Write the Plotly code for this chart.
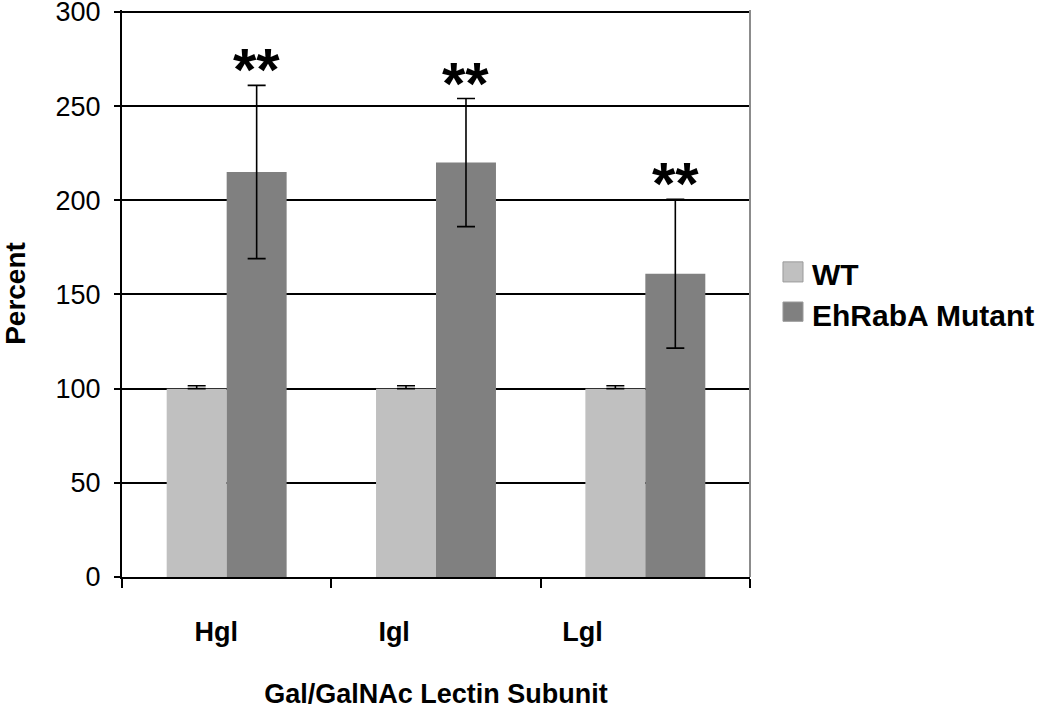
import plotly.graph_objects as go

# data
subunits = ["Hgl", "Igl", "Lgl"]
wt_pct = [100, 100, 100]
wt_err_plus = [1.5, 1.5, 1.5]
wt_err_minus = [0, 0, 0]
mutant_pct = [215, 220, 161]
mutant_err = [46, 34, 39.5]
signif = ["**", "**", "**"]

WT_COLOR = "#C0C0C0"
MUT_COLOR = "#808080"
FONT = "Liberation Sans, Arial, sans-serif"
BARGAP = 0.427

xpos = list(range(len(subunits)))
# labels in the source sit a bit left of the category centres
label_pos = [-0.05, 0.80, 1.70]

fig = go.Figure()
fig.add_trace(
    go.Bar(
        x=xpos,
        y=wt_pct,
        name="WT",
        marker=dict(color=WT_COLOR, line=dict(width=0)),
        error_y=dict(type="data", array=wt_err_plus, arrayminus=wt_err_minus,
                     color="black", thickness=1.6, width=9),
        showlegend=False,
    )
)
fig.add_trace(
    go.Bar(
        x=xpos,
        y=mutant_pct,
        name="EhRabA Mutant",
        marker=dict(color=MUT_COLOR, line=dict(width=0)),
        error_y=dict(type="data", array=mutant_err, color="black", thickness=1.6, width=9),
        showlegend=False,
    )
)

# significance stars above the mutant bars
for i, (m, e, s) in enumerate(zip(mutant_pct, mutant_err, signif)):
    fig.add_annotation(
        x=i + (1 - BARGAP) / 4,
        y=m + e,
        text=f"<b>{s}</b>",
        showarrow=False,
        xanchor="center",
        yanchor="bottom",
        yshift=-20,
        font=dict(size=60, color="black", family=FONT),
    )

# legend drawn by hand (larger swatches than plotly's own)
legend_rows = [("WT", WT_COLOR, 0.5558, 0.5204, 0.5336), ("EhRabA Mutant", MUT_COLOR, 0.485, 0.451, 0.462)]
for label, color, y0, y1, ty in legend_rows:
    fig.add_shape(type="rect", xref="paper", yref="paper", x0=1.0525, x1=1.0844, y0=y1, y1=y0,
                  fillcolor=color, line=dict(color="#9a9a9a", width=1))
    fig.add_annotation(x=1.0955, y=ty, xref="paper", yref="paper", text=f"<b>{label}</b>",
                       showarrow=False, xanchor="left", yanchor="middle",
                       font=dict(size=30, color="black", family=FONT))

# thin grey right border of the plot area
fig.add_shape(type="line", xref="paper", yref="paper", x0=1, x1=1, y0=0, y1=1,
              line=dict(color="#8c8c8c", width=2))

fig.update_layout(
    width=1050,
    height=711,
    margin=dict(l=122, r=300, t=10, b=134),
    paper_bgcolor="white",
    plot_bgcolor="white",
    barmode="group",
    bargap=BARGAP,
    bargroupgap=0,
    font=dict(family=FONT, color="black"),
    showlegend=False,
)
fig.update_xaxes(
    range=[-0.5, 2.5],
    automargin=False,
    tickmode="array",
    tickvals=label_pos,
    ticktext=[f"<b>{s}</b>" for s in subunits],
    ticks="",
    ticklabelstandoff=30,
    tickfont=dict(size=27),
    showgrid=False,
    zeroline=False,
    showline=True,
    linecolor="black",
    linewidth=2,
    minor=dict(tickmode="array", tickvals=[-0.5, 0.5, 1.5, 2.5], ticks="outside",
               ticklen=9, tickwidth=2, tickcolor="black", showgrid=False),
    title=dict(text="<b>Gal/GalNAc Lectin Subunit</b>", font=dict(size=27), standoff=38),
)
fig.update_yaxes(
    range=[0, 301],
    automargin=False,
    tickmode="array",
    tickvals=[0, 50, 100, 150, 200, 250, 300],
    ticks="outside",
    ticklen=6,
    tickwidth=2,
    tickcolor="black",
    ticklabelstandoff=8,
    ticklabeloverflow="allow",
    tickfont=dict(size=27),
    showgrid=True,
    gridcolor="black",
    gridwidth=1.6,
    zeroline=False,
    showline=True,
    linecolor="black",
    linewidth=2,
    title=dict(text="<b>Percent</b>", font=dict(size=28), standoff=22),
)

# drop the browser's default body margin so the figure sits flush in the window
fig.write_html(
    "out.html",
    config={"displayModeBar": False},
    post_script="document.body.style.margin='0';",
)
